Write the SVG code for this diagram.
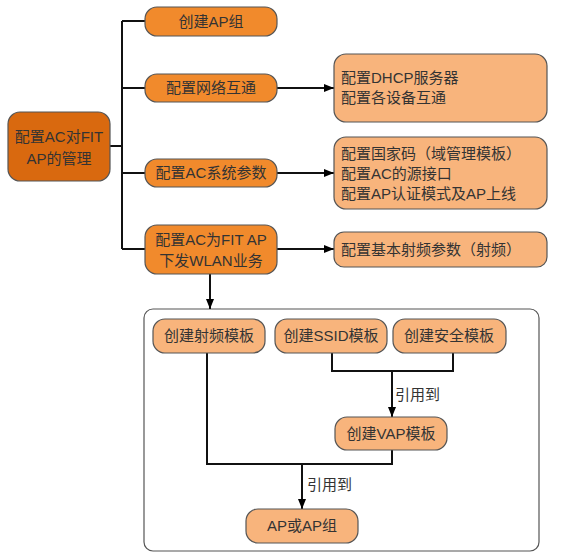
<svg xmlns="http://www.w3.org/2000/svg" width="576" height="557" viewBox="0 0 576 557">
<defs>
<marker id="arr" viewBox="0 0 10 10" refX="10" refY="5" markerWidth="10" markerHeight="10" markerUnits="userSpaceOnUse" orient="auto">
<path d="M0,1 L10,5 L0,9 z" fill="#000"/>
</marker>
<style>
text{font-family:"Liberation Sans","Noto Sans CJK SC",sans-serif;font-size:15px;fill:#333}
.c{text-anchor:middle}
.main{fill:#D9690F;stroke:#555;stroke-width:1.2}
.l2{fill:#F18A2C;stroke:#555;stroke-width:1.2}
.pe{fill:#F8B47C;stroke:#555;stroke-width:1.2}
.ln{fill:none;stroke:#111;stroke-width:2}
</style>
</defs>
<g id="container"><rect x="144" y="309" width="395" height="242" rx="9" fill="#fff" stroke="#555" stroke-width="1.2"/></g>
<g id="connectors">
<path class="ln" d="M110,146 H122 M122,21 V249 M122,21 H145 M122,88 H145 M122,173 H145 M122,249 H145"/>
<path class="ln" d="M277,88 H334" marker-end="url(#arr)"/>
<path class="ln" d="M277,173 H334" marker-end="url(#arr)"/>
<path class="ln" d="M277,249 H334" marker-end="url(#arr)"/>
<path class="ln" d="M210,274 V309" marker-end="url(#arr)"/>
<path class="ln" d="M332,353 V371 H453 V353"/>
<path class="ln" d="M392,371 V417" marker-end="url(#arr)"/>
<path class="ln" d="M207,353 V464 H392 V450"/>
<path class="ln" d="M302,464 V509" marker-end="url(#arr)"/>
<text x="395" y="400">引用到</text>
<text x="307" y="490">引用到</text>
</g>
<g id="n-main"><rect class="main" x="8" y="112" width="102" height="69" rx="12"/><text class="c" x="59" y="142">配置AC对FIT</text><text class="c" x="59" y="164">AP的管理</text></g>
<g id="n-apgroup"><rect class="l2" x="145" y="7" width="132" height="29" rx="12"/><text class="c" x="211" y="27">创建AP组</text></g>
<g id="n-net"><rect class="l2" x="145" y="74" width="132" height="28" rx="12"/><text class="c" x="211" y="93">配置网络互通</text></g>
<g id="n-acsys"><rect class="l2" x="145" y="159" width="132" height="28" rx="12"/><text class="c" x="211" y="178">配置AC系统参数</text></g>
<g id="n-wlan"><rect class="l2" x="145" y="225" width="132" height="49" rx="12"/><text class="c" x="211" y="245">配置AC为FIT AP</text><text class="c" x="211" y="266">下发WLAN业务</text></g>
<g id="n-dhcp"><rect class="pe" x="334" y="54" width="213" height="68" rx="12"/><text x="341" y="83">配置DHCP服务器</text><text x="341" y="103">配置各设备互通</text></g>
<g id="n-country"><rect class="pe" x="334" y="137" width="213" height="72" rx="12"/><text x="341" y="159">配置国家码（域管理模板）</text><text x="341" y="179">配置AC的源接口</text><text x="341" y="199">配置AP认证模式及AP上线</text></g>
<g id="n-radio"><rect class="pe" x="334" y="232" width="213" height="35" rx="10"/><text x="341" y="255">配置基本射频参数（射频）</text></g>
<g id="n-rftpl"><rect class="pe" x="153" y="319" width="112" height="34" rx="12"/><text class="c" x="209" y="341">创建射频模板</text></g>
<g id="n-ssid"><rect class="pe" x="275" y="319" width="112" height="34" rx="12"/><text class="c" x="331" y="341">创建SSID模板</text></g>
<g id="n-sec"><rect class="pe" x="393" y="319" width="113" height="34" rx="12"/><text class="c" x="449" y="341">创建安全模板</text></g>
<g id="n-vap"><rect class="pe" x="335" y="417" width="112" height="33" rx="12"/><text class="c" x="391" y="439">创建VAP模板</text></g>
<g id="n-ap"><rect class="pe" x="246" y="509" width="112" height="34" rx="12"/><text class="c" x="302" y="531">AP或AP组</text></g>
</svg>
